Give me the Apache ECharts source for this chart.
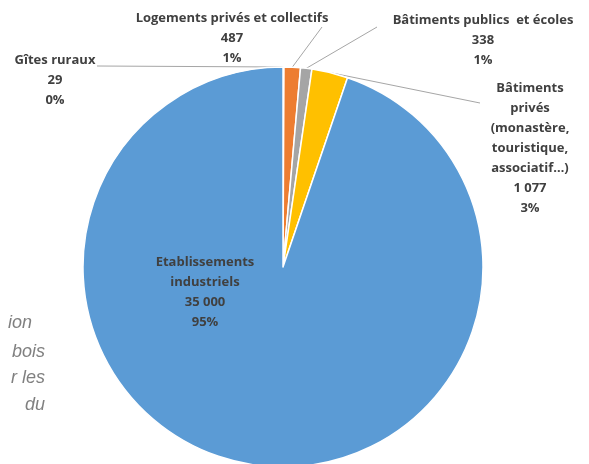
<!DOCTYPE html>
<html>
<head>
<meta charset="utf-8">
<script src="https://cdn.jsdelivr.net/npm/echarts@6/dist/echarts.min.js"></script>
<style>
  html, body { margin: 0; padding: 0; background: #ffffff; }
  #chart { width: 589px; height: 464px; }
</style>
</head>
<body>
<div id="chart"></div>
<script>
// Heating installations by building type
const categories = [
  'Gîtes ruraux',
  'Logements privés et collectifs',
  'Bâtiments publics  et écoles',
  'Bâtiments\nprivés\n(monastère,\ntouristique,\nassociatif…)',
  'Etablissements\nindustriels'
];
const values = [29, 487, 338, 1077, 35000];
const sliceColors = ['#5B9BD5', '#ED7D31', '#A5A5A5', '#FFC000', '#5B9BD5'];

// Label anchor points (centre of each text block) and leader-line end points
const labelAnchors = [[55, 80], [232, 38], [483, 40], [530, 148], [205, 292]];
const leaderEnds = [[97, 66], [322, 27], [377, 27], [480, 103], null];

// Fragment of the surrounding page text on the left
const sideText = [['ion', 32, 323], ['bois', 45, 352], ['r les', 45, 378], ['du', 45, 405]];

function fmtNumber(v) {
  return String(v).replace(/\B(?=(\d{3})+(?!\d))/g, ' ');
}

const chart = echarts.init(document.getElementById('chart'), null, { renderer: 'canvas' });

chart.setOption({
  animation: false,
  backgroundColor: '#ffffff',
  graphic: sideText.map(([t, x, y]) => ({
    type: 'text',
    x: x, y: y,
    style: {
      text: t,
      fill: '#808080',
      font: 'italic 18px "Liberation Sans", Arial, sans-serif',
      textAlign: 'right',
      textVerticalAlign: 'middle'
    }
  })),
  series: [{
    type: 'pie',
    center: [283, 267],
    radius: 200,
    startAngle: 90,
    clockwise: true,
    avoidLabelOverlap: false,
    itemStyle: { borderColor: '#ffffff', borderWidth: 1.5 },
    label: {
      show: true,
      position: 'outside',
      color: '#404040',
      fontFamily: '"Open Sans", sans-serif',
      fontWeight: 'bold',
      fontSize: 13,
      lineHeight: 20,
      align: 'center',
      formatter: p => p.name + '\n' + fmtNumber(p.value) + '\n' + Math.round(p.percent) + '%'
    },
    labelLine: {
      show: true,
      length: 10,
      length2: 10,
      lineStyle: { color: '#A6A6A6', width: 1 }
    },
    labelLayout: function (params) {
      const i = params.dataIndex;
      const a = labelAnchors[i];
      const out = { x: a[0], y: a[1], align: 'center', verticalAlign: 'middle' };
      const end = leaderEnds[i];
      if (end && params.labelLinePoints) {
        const start = params.labelLinePoints[0];
        out.labelLinePoints = [start, end, end];
      }
      return out;
    },
    data: categories.map((c, i) => ({
      name: c,
      value: values[i],
      itemStyle: { color: sliceColors[i] },
      label: i === 4 ? { position: 'inside' } : undefined,
      labelLine: i === 4 ? { show: false } : undefined
    }))
  }]
});
</script>
</body>
</html>
